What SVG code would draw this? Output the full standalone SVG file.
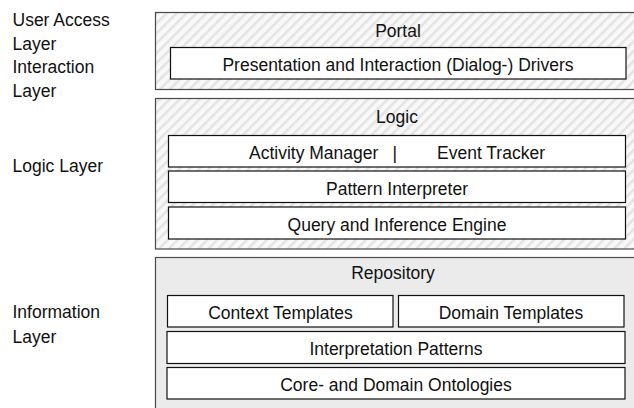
<svg xmlns="http://www.w3.org/2000/svg" width="634" height="408" viewBox="0 0 634 408">
<defs>
<pattern id="hatch" patternUnits="userSpaceOnUse" width="7" height="7" patternTransform="rotate(45)">
<rect width="7" height="7" fill="#f8f8f8"/>
<rect x="0" y="0" width="2.5" height="7" fill="#e3e3e3"/>
</pattern>
</defs>
<style>
text{font-family:"Liberation Sans",Arial,sans-serif;font-size:17.5px;fill:#111}
.c{text-anchor:middle}
.outer{stroke:#4a4a4a;stroke-width:1.2}
.inner{fill:#fff;stroke:#111;stroke-width:1.2}
</style>
<g id="labels">
<text x="12.5" y="26">User Access</text>
<text x="12.5" y="49.5">Layer</text>
<text x="12.5" y="73">Interaction</text>
<text x="12.5" y="97">Layer</text>
<text x="12.5" y="171.5">Logic Layer</text>
<text x="12.5" y="318">Information</text>
<text x="12.5" y="342.5">Layer</text>
</g>
<g id="portal">
<rect class="outer" x="155.5" y="12.5" width="490" height="77" fill="url(#hatch)"/>
<text class="c" x="398" y="37">Portal</text>
</g>
<g id="presentation">
<rect class="inner" x="170.5" y="47.5" width="455.5" height="31.5"/>
<text class="c" x="398" y="70.5">Presentation and Interaction (Dialog-) Drivers</text>
</g>
<g id="logic">
<rect class="outer" x="155.5" y="98.5" width="490" height="150.5" fill="url(#hatch)"/>
<text class="c" x="397" y="123">Logic</text>
</g>
<g id="activity">
<rect class="inner" x="168.5" y="135.5" width="457" height="31.5"/>
<text x="249" y="158.5">Activity Manager</text>
<text x="392.5" y="158.5">|</text>
<text x="437" y="158.5">Event Tracker</text>
</g>
<g id="pattern-interpreter">
<rect class="inner" x="168.5" y="171" width="457" height="31.5"/>
<text class="c" x="397" y="194.5">Pattern Interpreter</text>
</g>
<g id="query">
<rect class="inner" x="168.5" y="207" width="457" height="32"/>
<text class="c" x="397" y="230.5">Query and Inference Engine</text>
</g>
<g id="repository">
<rect class="outer" x="155.5" y="257.5" width="490" height="160" fill="#ebebeb"/>
<text class="c" x="393" y="278.5">Repository</text>
</g>
<g id="context-templates">
<rect class="inner" x="167.5" y="295.5" width="225.5" height="31.5"/>
<text class="c" x="280.5" y="318.5">Context Templates</text>
</g>
<g id="domain-templates">
<rect class="inner" x="398.5" y="295.5" width="225.5" height="31.5"/>
<text class="c" x="511" y="318.5">Domain Templates</text>
</g>
<g id="interpretation-patterns">
<rect class="inner" x="167" y="331.5" width="458" height="32"/>
<text class="c" x="396" y="355">Interpretation Patterns</text>
</g>
<g id="ontologies">
<rect class="inner" x="167" y="367.5" width="458" height="31.5"/>
<text class="c" x="396" y="390.5">Core- and Domain Ontologies</text>
</g>
<g id="connectors"></g>
</svg>
